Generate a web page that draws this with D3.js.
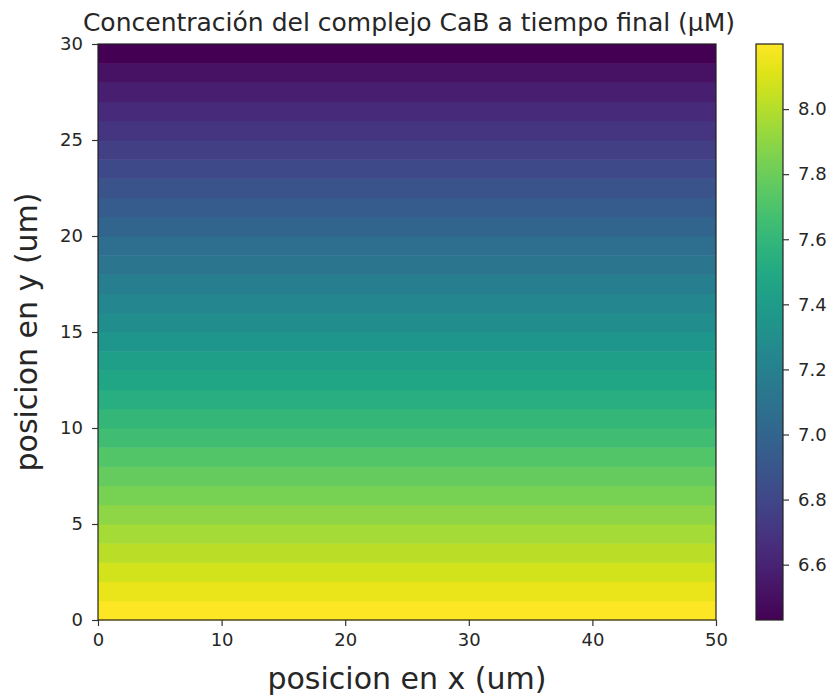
<!DOCTYPE html>
<html>
<head>
<meta charset="utf-8">
<script src="https://cdn.jsdelivr.net/npm/d3@7"></script>
<style>
  body { margin: 0; background: #fff; }
  text { font-family: "DejaVu Sans", sans-serif; fill: #262626; }
</style>
</head>
<body>
<svg id="chart"></svg>
<script>
// x grid edges (um), y rows (um, bottom edge of each row) and CaB value per row
const xExtent = [0, 50];
const yRows = d3.range(0, 30);
const rowValues = [8.20, 8.14, 8.08, 8.02, 7.96, 7.90, 7.84, 7.78, 7.72, 7.66,
                   7.60, 7.54, 7.48, 7.42, 7.36, 7.30, 7.24, 7.18, 7.12, 7.06,
                   7.00, 6.94, 6.88, 6.82, 6.76, 6.70, 6.64, 6.58, 6.51, 6.43];
const xTicks = [0, 10, 20, 30, 40, 50];
const yTicks = [0, 5, 10, 15, 20, 25, 30];
const cbTicks = [6.6, 6.8, 7.0, 7.2, 7.4, 7.6, 7.8, 8.0];

const config = {
  width: 835, height: 700,
  plot: {left: 98, top: 44, width: 618, height: 576},
  cbar: {left: 756, width: 27},
  tickLen: 6,
  tickFont: 18
};

const svg = d3.select('#chart')
    .attr('width', config.width)
    .attr('height', config.height);

const p = config.plot;

const xScale = d3.scaleLinear().domain(xExtent).range([0, p.width]);
const yScale = d3.scaleLinear().domain([0, 30]).range([p.height, 0]);
const color = d3.scaleSequential(d3.interpolateViridis)
    .domain(d3.extent(rowValues));

const plot = svg.append('g')
    .attr('transform', `translate(${p.left},${p.top})`);

// heatmap rows
plot.selectAll('.row')
    .data(yRows)
    .join('rect')
    .attr('class', 'row')
    .attr('x', xScale(xExtent[0]))
    .attr('width', xScale(xExtent[1]) - xScale(xExtent[0]))
    .attr('y', d => yScale(d + 1))
    .attr('height', d => yScale(d) - yScale(d + 1) + 0.5)
    .attr('fill', (d, i) => color(rowValues[i]));

plot.append('rect')
    .attr('width', p.width)
    .attr('height', p.height)
    .attr('fill', 'none')
    .attr('stroke', '#222')
    .attr('stroke-width', 1.2);

// axes
const xAxis = d3.axisBottom(xScale).tickValues(xTicks).tickSize(config.tickLen).tickPadding(7);
const yAxis = d3.axisLeft(yScale).tickValues(yTicks).tickSize(config.tickLen).tickPadding(9);

const gx = plot.append('g')
    .attr('transform', `translate(0,${p.height})`)
    .call(xAxis);
const gy = plot.append('g').call(yAxis);

[gx, gy].forEach(g => {
  g.select('.domain').remove();
  g.selectAll('.tick line').attr('stroke', '#333').attr('stroke-width', 1.2);
  g.selectAll('.tick text').attr('font-size', config.tickFont).attr('fill', '#262626')
      .attr('font-family', '"DejaVu Sans", sans-serif');
});

// colorbar
const cb = config.cbar;
const cbScale = d3.scaleLinear().domain(color.domain()).range([p.height, 0]);

const grad = svg.append('defs').append('linearGradient')
    .attr('id', 'cb-grad')
    .attr('x1', 0).attr('y1', 1).attr('x2', 0).attr('y2', 0);
d3.range(0, 1.0001, 0.05).forEach(t => {
  grad.append('stop')
      .attr('offset', t)
      .attr('stop-color', d3.interpolateViridis(t));
});

const cbar = svg.append('g')
    .attr('transform', `translate(${cb.left},${p.top})`);

cbar.append('rect')
    .attr('width', cb.width)
    .attr('height', p.height)
    .attr('fill', 'url(#cb-grad)')
    .attr('stroke', '#222')
    .attr('stroke-width', 1.2);

const cbAxis = d3.axisRight(cbScale)
    .tickValues(cbTicks)
    .tickFormat(d3.format('.1f'))
    .tickSize(config.tickLen)
    .tickPadding(9);

const gc = cbar.append('g')
    .attr('transform', `translate(${cb.width},0)`)
    .call(cbAxis);
gc.select('.domain').remove();
gc.selectAll('.tick line').attr('stroke', '#333').attr('stroke-width', 1.2);
gc.selectAll('.tick text').attr('font-size', config.tickFont).attr('fill', '#262626')
    .attr('font-family', '"DejaVu Sans", sans-serif');

// titles
svg.append('text')
    .attr('x', p.left + p.width / 2 + 2)
    .attr('y', 31)
    .attr('text-anchor', 'middle')
    .attr('font-size', 25)
    .text('Concentración del complejo CaB a tiempo final (µM)');

svg.append('text')
    .attr('x', p.left + p.width / 2)
    .attr('y', 689)
    .attr('text-anchor', 'middle')
    .attr('font-size', 30)
    .text('posicion en x (um)');

svg.append('text')
    .attr('transform', `translate(37,${p.top + p.height / 2}) rotate(-90)`)
    .attr('text-anchor', 'middle')
    .attr('font-size', 30)
    .text('posicion en y (um)');
</script>
</body>
</html>
